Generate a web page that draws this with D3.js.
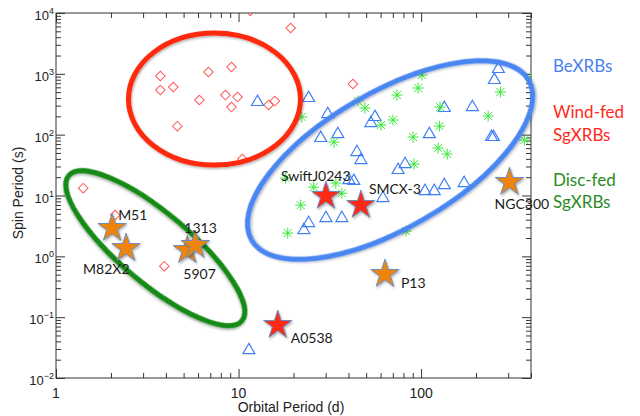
<!DOCTYPE html>
<html>
<head>
<meta charset="utf-8">
<script src="https://cdn.jsdelivr.net/npm/d3@7"></script>
<style>
  body { margin: 0; background: #fff; }
  .tick text { display: none; }
</style>
</head>
<body>
<svg id="svg"></svg>
<script>
// Be X-ray binaries (blue triangles): orbital period (d), spin period (s)
const beP = [12.7, 24.2, 30.8, 28.2, 35.0, 55.9, 53.1, 44.5, 46.8, 74.8, 40.2, 42.8, 61.8, 30.1, 36.8,
             24.2, 22.8, 11.4, 265, 252, 134, 191, 111, 243, 249, 81.7, 105, 118, 134, 172];
const beS = [344, 400, 218, 88, 102, 195, 155, 51.7, 38.2, 26.2, 17.9, 17.3, 9.06, 4.25, 4.25,
             3.52, 2.70, 0.0286, 1199, 791, 274, 284, 102, 91.4, 91.4, 32.8, 11.8, 11.8, 14.8, 16.0];
// green asterisks
const astP = [22.2, 45.1, 49.2, 60.3, 70.2, 73.8, 33.3, 18.1, 25.8, 34.1, 36.8, 21.9, 18.6,
              101, 96.3, 127, 126, 90.4, 124, 139, 233, 272, 368, 397, 91.5, 82.7];
const astS = [195, 357, 274, 144, 174, 448, 75.5, 19.3, 13.7, 16.0, 10.9, 6.95, 2.41,
              955, 584, 284, 138, 91.4, 60.2, 48.0, 202, 502, 81.5, 821, 32.8, 2.60];
// supergiant systems (red diamonds)
const sgP = [3.73, 3.73, 4.39, 6.84, 6.10, 4.62, 1.41, 11.6, 19.3, 9.15, 8.48, 9.87, 9.15,
             14.6, 15.8, 42.3, 10.5, 2.11, 3.92];
const sgS = [920, 542, 607, 1071, 371, 138, 13.2, 10790, 5667, 1294, 448, 415, 284,
             307, 357, 680, 39.7, 4.76, 0.69];
// named sources (stars)
const starNames = ['M51', 'M82X2', '5907', '1313', 'SwiftJ0243', 'SMCX-3', 'NGC300', 'P13', 'A0538'];
const starP = [2.03, 2.42, 5.24, 5.80, 30.1, 46.8, 305, 63.4, 16.4];
const starS = [2.91, 1.36, 1.26, 1.53, 9.78, 6.95, 16.6, 0.51, 0.074];
const starType = ['ulx', 'ulx', 'ulx', 'ulx', 'gal', 'gal', 'ulx', 'ulx', 'gal'];

const xMajor = [1, 10, 100];
const yMajor = [1e-2, 1e-1, 1, 10, 100, 1e3, 1e4];
const yExp = ['−2', '−1', '0', '1', '2', '3', '4'];
const legendLines = [['BeXRBs'], ['Wind-fed', 'SgXRBs'], ['Disc-fed', 'SgXRBs']];
const legendColors = ['#4a80f0', '#ff2a1a', '#2a8c22'];

const W = 640, H = 416;
const L = 56, R = 531, T = 13, B = 378;
const svg = d3.select('#svg').attr('width', W).attr('height', H);
const x = d3.scaleLog().domain([1, 400]).range([L, R]);
const y = d3.scaleLog().domain([0.01, 1e4]).range([B, T]);

const defs = svg.append('defs');
defs.append('clipPath').attr('id', 'plot')
  .append('rect').attr('x', L).attr('y', T).attr('width', R - L).attr('height', B - T);
defs.append('filter').attr('id', 'sh')
  .attr('x', '-20%').attr('y', '-20%').attr('width', '140%').attr('height', '140%')
  .append('feDropShadow').attr('dx', 1).attr('dy', 1.5).attr('stdDeviation', 1.2)
  .attr('flood-color', '#000').attr('flood-opacity', 0.3);

// minor tick values (2..9 per decade)
const minors = (lo, hi) => {
  const out = [];
  for (let e = lo; e < hi; e++) for (let k = 2; k <= 9; k++) out.push(k * Math.pow(10, e));
  return out;
};
const xMinor = minors(0, 3).filter(v => v <= 400);
const yMinor = minors(-2, 4);

const axes = [
  [d3.axisBottom(x), B, xMajor, xMinor, 'x'],
  [d3.axisTop(x), T, xMajor, xMinor, 'x'],
  [d3.axisLeft(y), L, yMajor, yMinor, 'y'],
  [d3.axisRight(y), R, yMajor, yMinor, 'y']
];
axes.forEach(([ax, pos, maj, min, dir]) => {
  [[maj, -9], [min, -5]].forEach(([vals, len]) => {
    const g = svg.append('g')
      .attr('transform', dir === 'x' ? `translate(0,${pos})` : `translate(${pos},0)`)
      .call(ax.tickValues(vals).tickSize(len).tickSizeOuter(0).tickFormat(''));
    g.select('.domain').remove();
    g.selectAll('line').attr('stroke', '#333');
  });
});
svg.append('rect').attr('x', L).attr('y', T).attr('width', R - L).attr('height', B - T)
  .attr('fill', 'none').attr('stroke', '#333').attr('stroke-width', 1);

// tick labels
svg.append('g').selectAll('text').data(xMajor).enter().append('text')
  .attr('x', d => x(d)).attr('y', 398)
  .attr('text-anchor', 'middle')
  .style('font', '14px "Liberation Sans", Arial, sans-serif').attr('fill', '#222')
  .text(d => d);
const yl = svg.append('g').selectAll('text').data(yMajor).enter().append('text')
  .attr('x', 54).attr('y', d => y(d) + 7)
  .attr('text-anchor', 'end')
  .style('font', '13px "Liberation Sans", Arial, sans-serif').attr('fill', '#222');
yl.append('tspan').text('10');
yl.append('tspan').attr('dy', -6).style('font-size', '9px').text((d, i) => yExp[i]);

svg.append('text').attr('x', 291).attr('y', 412).attr('text-anchor', 'middle')
  .style('font', '14px "Liberation Sans", Arial, sans-serif').attr('fill', '#222')
  .text('Orbital Period (d)');
svg.append('text').attr('transform', 'translate(23,193) rotate(-90)').attr('text-anchor', 'middle')
  .style('font', '14px "Liberation Sans", Arial, sans-serif').attr('fill', '#222')
  .text('Spin Period (s)');

// markers
const pts = svg.append('g').attr('clip-path', 'url(#plot)');
pts.selectAll('.sg').data(sgP).enter().append('path')
  .attr('d', d3.symbol(d3.symbolSquare, 46))
  .attr('transform', (d, i) => `translate(${x(d)},${y(sgS[i])}) rotate(45)`)
  .attr('fill', 'none').attr('stroke', '#ff5a5a').attr('stroke-width', 1);
pts.selectAll('.be').data(beP).enter().append('path')
  .attr('d', d3.symbol(d3.symbolTriangle, 62))
  .attr('transform', (d, i) => `translate(${x(d)},${y(beS[i])})`)
  .attr('fill', 'none').attr('stroke', '#3f7ff5').attr('stroke-width', 1.2);
const ast = 'M0,-5.5V5.5M-5.5,0H5.5M-4,-4L4,4M-4,4L4,-4';
pts.selectAll('.ast').data(astP).enter().append('path')
  .attr('d', ast)
  .attr('transform', (d, i) => `translate(${x(d)},${y(astS[i])})`)
  .attr('fill', 'none').attr('stroke', '#3be83b').attr('stroke-width', 1);

// group outlines
const rings = [
  {p: 7.38, s: 385, rx: 86, ry: 66, rot: 0, c: '#ff2a0a'},
  {p: 3.50, s: 1.36, rx: 113, ry: 35, rot: 40, c: '#168a16'},
  {p: 67.6, s: 38.2, rx: 160, ry: 68, rot: -30, c: '#4a86f2'}
];
svg.append('g').selectAll('ellipse').data(rings).enter().append('ellipse')
  .attr('transform', d => `translate(${x(d.p)},${y(d.s)}) rotate(${d.rot})`)
  .attr('rx', d => d.rx).attr('ry', d => d.ry)
  .attr('fill', 'none').attr('stroke', d => d.c).attr('stroke-width', 5)
  .attr('filter', 'url(#sh)');

// stars + names
const labelOff = {
  'M51': [6, -8], 'M82X2': [-43, 26], '5907': [-4, 29], '1313': [-11, -12],
  'SwiftJ0243': [-45, -15], 'SMCX-3': [8, -11], 'NGC300': [-15, 27], 'P13': [16, 14], 'A0538': [13, 18]
};
svg.append('g').selectAll('path').data(starP).enter().append('path')
  .attr('d', d3.symbol(d3.symbolStar, 250))
  .attr('transform', (d, i) => `translate(${x(d)},${y(starS[i])})`)
  .attr('fill', (d, i) => starType[i] === 'ulx' ? '#ef8407' : '#ff2a14')
  .attr('stroke', '#6b8cc0').attr('stroke-width', 1)
  .attr('filter', 'url(#sh)');
svg.append('g').selectAll('text').data(starNames).enter().append('text')
  .attr('x', (d, i) => x(starP[i]) + labelOff[d][0])
  .attr('y', (d, i) => y(starS[i]) + labelOff[d][1])
  .style('font', '14px Lato, "Open Sans", sans-serif').attr('fill', '#1a1a1a')
  .text(d => d);

// legend
const lg = svg.append('g');
const legendY = [[72], [118, 141], [186, 208]];
legendLines.forEach((lines, i) => {
  lines.forEach((t, j) => {
    lg.append('text').attr('x', 553).attr('y', legendY[i][j])
      .style('font', '17px Lato, "Open Sans", sans-serif').attr('fill', legendColors[i])
      .text(t);
  });
});
</script>
</body>
</html>
